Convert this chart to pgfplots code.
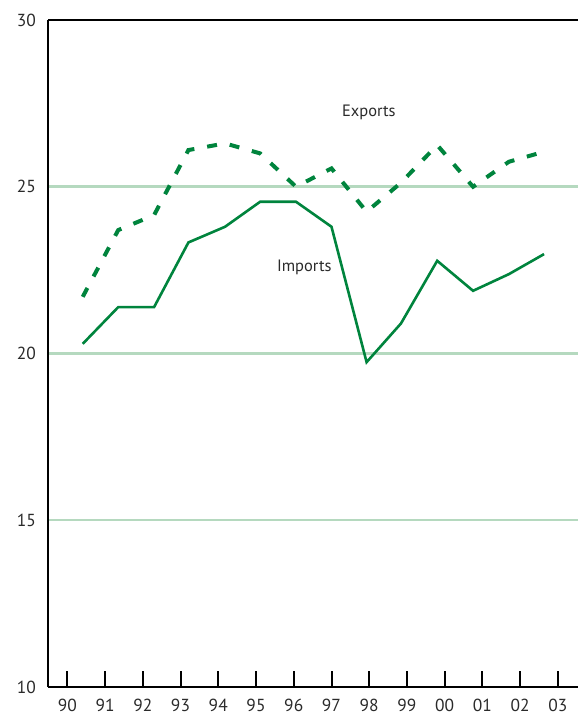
\documentclass[border=0pt]{standalone}
\usepackage{pgfplots}
\pgfplotsset{compat=1.18}
\usepackage{fontspec}
\setmainfont{PT Sans}
\definecolor{lgreen}{HTML}{00843D}
\definecolor{ggreen}{HTML}{B5D9BF}
\definecolor{txt}{HTML}{2A2A2A}

\begin{document}
\begin{tikzpicture}
\begin{axis}[
    name=ax,
    scale only axis,
    width=530bp, height=667bp,
    xmin=89.49, xmax=103.53,
    ymin=10, ymax=30,
    axis x line*=bottom, axis y line*=left,
    axis line style={black, line width=2.5bp},
    xtick={90,...,103},
    xticklabels={90,91,92,93,94,95,96,97,98,99,00,01,02,03},
    ytick={10,15,20,25,30},
    tick align=inside,
    x tick style={black, line width=2bp},
    major tick length=16bp,
    ytick style={draw=none},
    ymajorgrids,
    grid style={ggreen, line width=2.5bp},
    tick label style={font=\fontsize{17.5}{20}\selectfont, text=txt, inner sep=0pt},
    xticklabel style={anchor=north, yshift=-12bp},
    yticklabel style={anchor=east, xshift=-12bp},
    /pgf/number format/assume math mode=true,
    clip=false,
]
% Imports
\addplot[lgreen, line width=2.6bp, line join=miter] coordinates {
    (90.41,20.29) (91.35,21.39) (92.30,21.39) (93.21,23.33) (94.18,23.80)
    (95.11,24.55) (96.06,24.55) (97.00,23.80) (97.93,19.74) (98.84,20.90)
    (99.80,22.78) (100.75,21.88) (101.70,22.38) (102.63,22.98)
};
% Exports
\addplot[lgreen, line width=4bp, dash pattern=on 10bp off 13bp] coordinates {
    (90.41,21.70) (91.35,23.70) (92.30,24.15) (93.21,26.10) (94.18,26.30)
    (95.11,26.00) (96.06,25.00) (97.00,25.55) (97.93,24.25) (98.84,25.12)
    (99.80,26.25) (100.75,25.00) (101.70,25.75) (102.63,26.05)
};
\node[anchor=base, text=txt, font=\fontsize{16.5}{19}\selectfont] at (axis cs:97.99,27.12) {Exports};
\node[anchor=base, text=txt, font=\fontsize{16.5}{19}\selectfont] at (axis cs:96.28,22.45) {Imports};
\draw[black, line width=2.5bp] (rel axis cs:0,1) -- (rel axis cs:1,1);
\draw[gray!70, line width=1bp] (rel axis cs:1,0) -- (rel axis cs:1,1);
\end{axis}
\pgfresetboundingbox
\path[use as bounding box] ([xshift=-48bp,yshift=-30bp]ax.south west) rectangle ([yshift=20bp]ax.north east);
\end{tikzpicture}
\end{document}
